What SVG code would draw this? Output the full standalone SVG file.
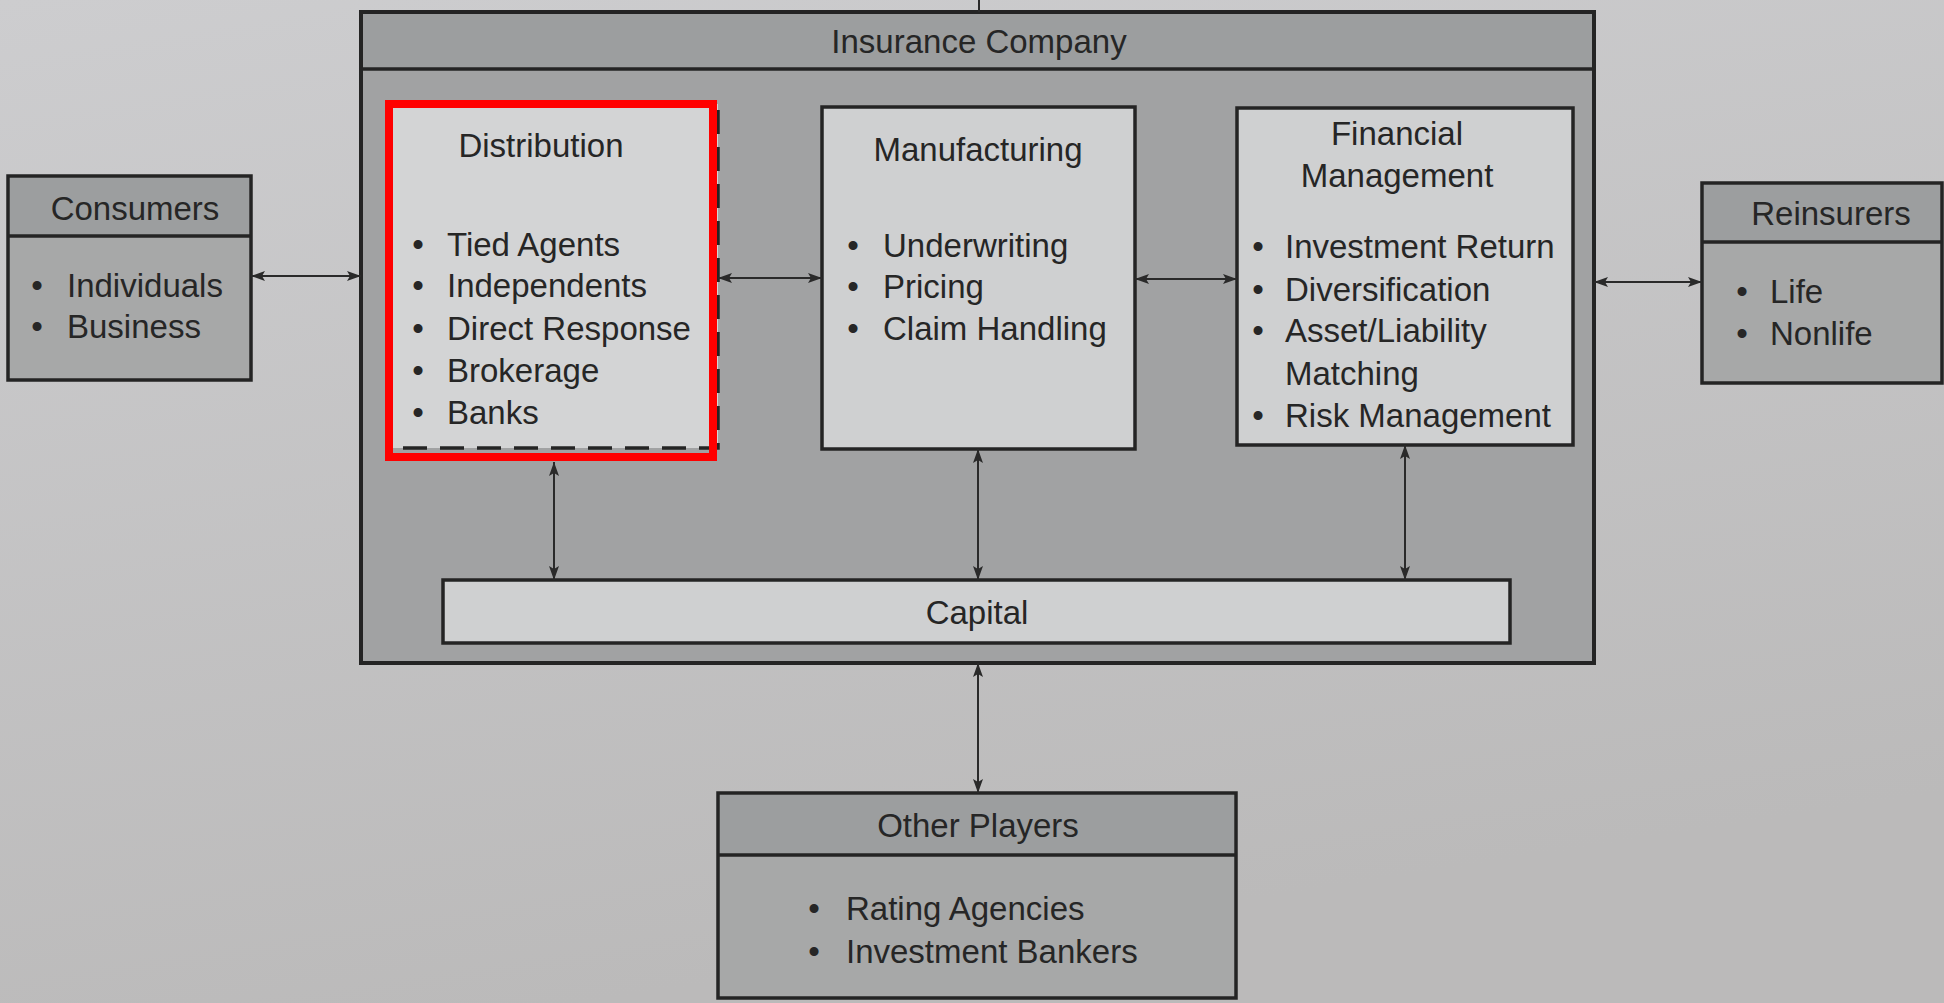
<svg xmlns="http://www.w3.org/2000/svg" width="1944" height="1003" viewBox="0 0 1944 1003">
<defs>
<linearGradient id="paper" x1="0" y1="0" x2="0.3" y2="1">
<stop offset="0" stop-color="#cdcdcf"/>
<stop offset="1" stop-color="#bbbaba"/>
</linearGradient>
<marker id="ah" viewBox="0 0 14 10" markerWidth="14" markerHeight="10" refX="14" refY="5" orient="auto-start-reverse" markerUnits="userSpaceOnUse">
<path d="M0,0 L14,5 L0,10 L3,5 z" fill="#2a2a2a"/>
</marker>
<style>
text{font-family:"Liberation Sans",Arial,Helvetica,sans-serif;font-size:33px;fill:#262626}
.c{text-anchor:middle}
.box{stroke:#242424;stroke-width:3.5}
.outer{fill:#a1a2a3;stroke:#242424;stroke-width:4}
.hdr{fill:#9c9e9f}
.body{fill:#a7a8a8}
.inner{fill:#cfd0d1;stroke:#242424;stroke-width:3.5}
.sep{stroke:#242424;stroke-width:3.5}
.conn line{stroke:#2a2a2a;stroke-width:2;fill:none}
</style>
</defs>
<rect x="0" y="0" width="1944" height="1003" fill="url(#paper)"/>

<g id="insurance-company">
<rect class="outer" x="361" y="12" width="1233" height="651"/>
<rect class="hdr" x="363" y="14" width="1229" height="55"/>
<line class="sep" x1="361" y1="69" x2="1594" y2="69"/>
<text class="c" x="979" y="53">Insurance Company</text>
</g>

<g id="consumers">
<rect class="body box" x="8" y="176" width="243" height="204"/>
<rect class="hdr" x="10" y="178" width="239" height="58"/>
<line class="sep" x1="8" y1="236" x2="251" y2="236"/>
<text class="c" x="135" y="220">Consumers</text>
<text class="c" x="37" y="297">•</text><text x="67" y="297">Individuals</text>
<text class="c" x="37" y="338">•</text><text x="67" y="338">Business</text>
</g>

<g id="distribution">
<rect x="391" y="104" width="327" height="344" fill="#d3d4d5" stroke="#242424" stroke-width="3.5" stroke-dasharray="24 13"/>
<text class="c" x="541" y="157">Distribution</text>
<text class="c" x="418" y="256">•</text><text x="447" y="256">Tied Agents</text>
<text class="c" x="418" y="297">•</text><text x="447" y="297">Independents</text>
<text class="c" x="418" y="340">•</text><text x="447" y="340">Direct Response</text>
<text class="c" x="418" y="382">•</text><text x="447" y="382">Brokerage</text>
<text class="c" x="418" y="424">•</text><text x="447" y="424">Banks</text>
</g>

<g id="manufacturing">
<rect class="inner" x="822" y="107" width="313" height="342"/>
<text class="c" x="978" y="161">Manufacturing</text>
<text class="c" x="853" y="257">•</text><text x="883" y="257">Underwriting</text>
<text class="c" x="853" y="298">•</text><text x="883" y="298">Pricing</text>
<text class="c" x="853" y="340">•</text><text x="883" y="340">Claim Handling</text>
</g>

<g id="financial-management">
<rect class="inner" x="1237" y="108" width="336" height="337"/>
<text class="c" x="1397" y="145">Financial</text>
<text class="c" x="1397" y="187">Management</text>
<text class="c" x="1258" y="258">•</text><text x="1285" y="258">Investment Return</text>
<text class="c" x="1258" y="301">•</text><text x="1285" y="301">Diversification</text>
<text class="c" x="1258" y="342">•</text><text x="1285" y="342">Asset/Liability</text>
<text x="1285" y="385">Matching</text>
<text class="c" x="1258" y="427">•</text><text x="1285" y="427">Risk Management</text>
</g>

<g id="capital">
<rect class="inner" x="443" y="580" width="1067" height="63"/>
<text class="c" x="977" y="624">Capital</text>
</g>

<g id="reinsurers">
<rect class="body box" x="1702" y="183" width="240" height="200"/>
<rect class="hdr" x="1704" y="185" width="236" height="57"/>
<line class="sep" x1="1702" y1="242" x2="1942" y2="242"/>
<text class="c" x="1831" y="225">Reinsurers</text>
<text class="c" x="1742" y="303">•</text><text x="1770" y="303">Life</text>
<text class="c" x="1742" y="345">•</text><text x="1770" y="345">Nonlife</text>
</g>

<g id="other-players">
<rect class="body box" x="718" y="793" width="518" height="205"/>
<rect class="hdr" x="720" y="795" width="514" height="60"/>
<line class="sep" x1="718" y1="855" x2="1236" y2="855"/>
<text class="c" x="978" y="837">Other Players</text>
<text class="c" x="814" y="920">•</text><text x="846" y="920">Rating Agencies</text>
<text class="c" x="814" y="963">•</text><text x="846" y="963">Investment Bankers</text>
</g>

<g id="connectors" class="conn">
<line x1="979" y1="0" x2="979" y2="12"/>
<line x1="251" y1="276" x2="361" y2="276" marker-start="url(#ah)" marker-end="url(#ah)"/>
<line x1="718" y1="278" x2="822" y2="278" marker-start="url(#ah)" marker-end="url(#ah)"/>
<line x1="1135" y1="279" x2="1237" y2="279" marker-start="url(#ah)" marker-end="url(#ah)"/>
<line x1="1594" y1="282" x2="1702" y2="282" marker-start="url(#ah)" marker-end="url(#ah)"/>
<line x1="554" y1="462" x2="554" y2="580" marker-start="url(#ah)" marker-end="url(#ah)"/>
<line x1="978" y1="449" x2="978" y2="580" marker-start="url(#ah)" marker-end="url(#ah)"/>
<line x1="1405" y1="445" x2="1405" y2="580" marker-start="url(#ah)" marker-end="url(#ah)"/>
<line x1="978" y1="663" x2="978" y2="793" marker-start="url(#ah)" marker-end="url(#ah)"/>
</g>

<g id="highlight">
<rect x="389" y="104" width="324" height="353" fill="none" stroke="#ff0000" stroke-width="8"/>
</g>
</svg>
